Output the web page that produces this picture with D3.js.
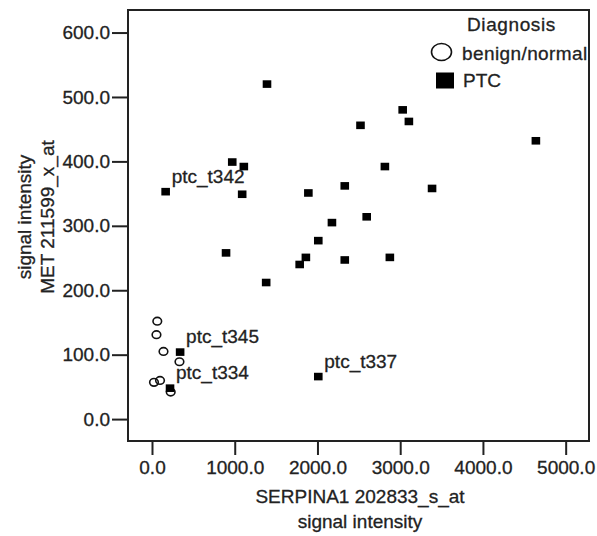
<!DOCTYPE html>
<html>
<head>
<meta charset="utf-8">
<script src="https://cdn.jsdelivr.net/npm/d3@7"></script>
<style>
  body { margin: 0; background: #fff; }
  text { font-family: "Liberation Sans", Arial, sans-serif; fill: #222; stroke: #222; stroke-width: 0.3px; }
</style>
</head>
<body>
<div id="chart"></div>
<script>
// Dados
const benignX = [64, 54, 139, 332, 24, 97, 226];
const benignY = [152, 131, 105, 89, 57, 60, 42];

const ptcX = [1390, 970, 1110, 165, 1090, 1890, 2175, 2010, 1860, 1785, 895, 1380,
    3030, 3105, 2520, 2815, 2330, 3385, 2595, 2330, 2875, 4640, 2010, 340, 218];
const ptcY = [520, 399, 392, 353, 349, 351, 305, 277, 251, 240, 258, 212,
    480, 462, 456, 392, 362, 358, 314, 247, 251, 432, 66, 104, 48];
const ptcLabel = ["", "", "", "ptc_t342", "", "", "", "", "", "", "", "",
    "", "", "", "", "", "", "", "", "", "", "ptc_t337", "ptc_t345", "ptc_t334"];

const xTicks = [0, 1000, 2000, 3000, 4000, 5000];
const yTicks = [0, 100, 200, 300, 400, 500, 600];

const width = 597, height = 536;
const frame = { left: 128, top: 10, right: 589, bottom: 441 };

const svg = d3.select("#chart")
    .append("svg")
    .attr("width", width)
    .attr("height", height);

const x = d3.scaleLinear()
    .domain([-290, 5282])
    .range([frame.left, frame.right]);

const y = d3.scaleLinear()
    .domain([-34, 635])
    .range([frame.bottom, frame.top]);

const fmt = d3.format(".1f");

// Eixos
const yAxis = svg.append("g")
    .attr("transform", `translate(${frame.left},0)`)
    .call(d3.axisLeft(y).tickValues(yTicks).tickFormat(fmt).tickSize(16).tickPadding(2));

const xAxis = svg.append("g")
    .attr("transform", `translate(0,${frame.bottom})`)
    .call(d3.axisBottom(x).tickValues(xTicks).tickFormat(fmt).tickSize(14).tickPadding(6));

[yAxis, xAxis].forEach(g => {
    g.select(".domain").remove();
    g.selectAll(".tick line").attr("stroke", "#222").attr("stroke-width", 2);
    g.selectAll(".tick text")
        .style("font-family", "'Liberation Sans', Arial, sans-serif")
        .style("font-size", "19px")
        .attr("fill", "#222");
});

// Moldura
svg.append("rect")
    .attr("x", frame.left)
    .attr("y", frame.top)
    .attr("width", frame.right - frame.left)
    .attr("height", frame.bottom - frame.top)
    .attr("fill", "none")
    .attr("stroke", "#222")
    .attr("stroke-width", 2);

// Títulos dos eixos
svg.append("text")
    .attr("x", 360)
    .attr("y", 503)
    .attr("text-anchor", "middle")
    .style("font-size", "19px")
    .text("SERPINA1 202833_s_at");

svg.append("text")
    .attr("x", 360)
    .attr("y", 528)
    .attr("text-anchor", "middle")
    .style("font-size", "19px")
    .text("signal intensity");

svg.append("text")
    .attr("transform", "translate(31,217) rotate(-90)")
    .attr("text-anchor", "middle")
    .style("font-size", "19px")
    .text("signal intensity");

svg.append("text")
    .attr("transform", "translate(54,217) rotate(-90)")
    .attr("text-anchor", "middle")
    .style("font-size", "19px")
    .text("MET 211599_x_at");

// Pontos benign/normal
const benign = benignX.map((v, i) => ({ x: v, y: benignY[i] }));
svg.selectAll(".benign")
    .data(benign)
    .enter()
    .append("ellipse")
    .attr("class", "benign")
    .attr("cx", d => x(d.x))
    .attr("cy", d => y(d.y))
    .attr("rx", 4.3)
    .attr("ry", 3.8)
    .attr("fill", "none")
    .attr("stroke", "#111")
    .attr("stroke-width", 1.6);

// Pontos PTC
const ptc = ptcX.map((v, i) => ({ x: v, y: ptcY[i], label: ptcLabel[i] }));
svg.selectAll(".ptc")
    .data(ptc)
    .enter()
    .append("rect")
    .attr("class", "ptc")
    .attr("x", d => x(d.x) - 4.3)
    .attr("y", d => y(d.y) - 3.8)
    .attr("width", 8.6)
    .attr("height", 7.6)
    .attr("fill", "#000");

svg.selectAll(".ptc-label")
    .data(ptc.filter(d => d.label))
    .enter()
    .append("text")
    .attr("class", "ptc-label")
    .attr("x", d => x(d.x) + 6)
    .attr("y", d => y(d.y) - 9)
    .style("font-size", "19px")
    .text(d => d.label);

// Legenda
const legend = svg.append("g").attr("class", "legend");

legend.append("text")
    .attr("x", 467)
    .attr("y", 31)
    .style("font-size", "19px")
    .style("letter-spacing", "0.6px")
    .text("Diagnosis");

legend.append("ellipse")
    .attr("cx", 441.5)
    .attr("cy", 52)
    .attr("rx", 10)
    .attr("ry", 8.5)
    .attr("fill", "none")
    .attr("stroke", "#111")
    .attr("stroke-width", 1.6);

legend.append("text")
    .attr("x", 462)
    .attr("y", 60)
    .style("font-size", "19px")
    .style("letter-spacing", "0.4px")
    .text("benign/normal");

legend.append("rect")
    .attr("x", 436)
    .attr("y", 72.5)
    .attr("width", 18)
    .attr("height", 16)
    .attr("fill", "#000");

legend.append("text")
    .attr("x", 463)
    .attr("y", 87)
    .style("font-size", "19px")
    .text("PTC");
</script>
</body>
</html>
